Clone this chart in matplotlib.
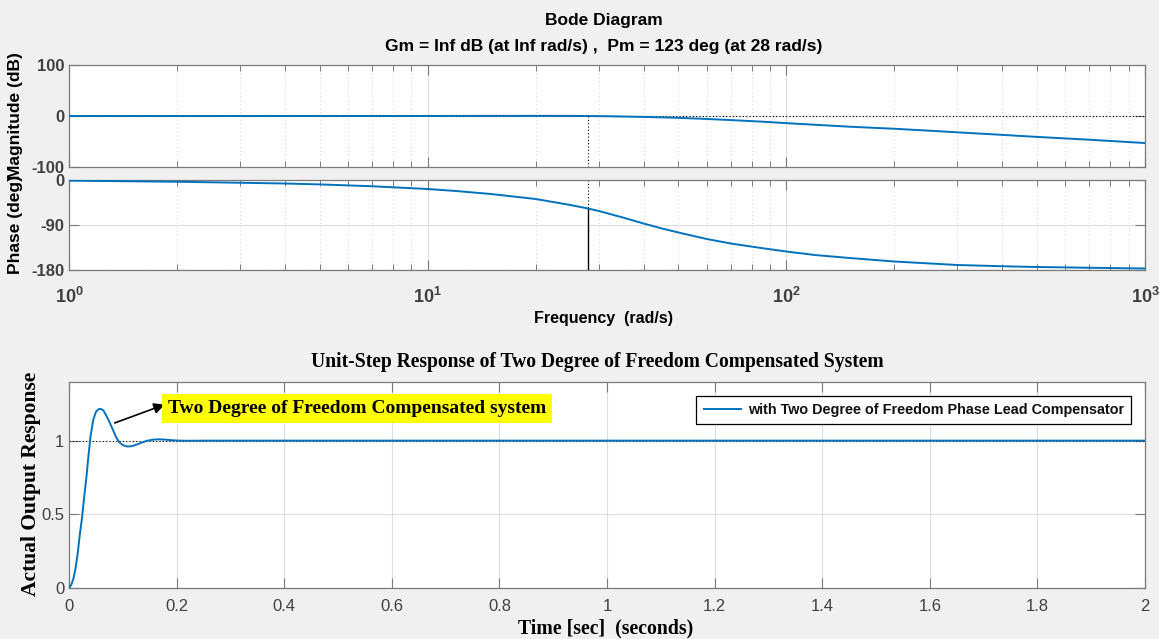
import numpy as np
import matplotlib
matplotlib.use("Agg")
import matplotlib.pyplot as plt
from matplotlib.ticker import LogLocator, NullFormatter, FixedLocator

# ---------------- data ----------------
mag_freq = [1, 2, 5, 10, 15, 20, 25, 28, 32, 35, 40, 45, 50, 60, 70, 85, 100,
            130, 150, 200, 250, 300, 400, 500, 700, 1000]
mag_db = [0.0, 0.0, 0.05, 0.1, 0.2, 0.3, 0.2, 0.0, -0.5, -1.0, -1.8, -2.7, -3.6,
          -5.8, -8.0, -11.0, -14.0, -18.5, -21.0, -25.0, -28.8, -32.0, -37.0,
          -41.0, -46.5, -53.0]

ph_freq = [1, 2, 3, 4, 5, 7, 10, 12, 15, 20, 25, 28, 30, 35, 40, 45, 50, 60, 70,
           85, 100, 120, 150, 200, 300, 400, 500, 700, 1000]
ph_deg = [-1.3, -3.5, -5.5, -7.0, -8.8, -12.5, -18.0, -22.0, -28.0, -38.0, -50.0,
          -57.0, -62.0, -75.0, -87.0, -97.0, -105.0, -118.0, -127.0, -136.0,
          -143.0, -150.0, -156.0, -163.0, -170.0, -172.5, -174.0, -175.5, -177.0]

pm_freq = 28
pm_phase = -57

step_t = [0, 0.004, 0.008, 0.012, 0.016, 0.020, 0.024, 0.028, 0.032, 0.036,
          0.040, 0.045, 0.050, 0.055, 0.059, 0.064, 0.070, 0.076, 0.082, 0.088,
          0.094, 0.100, 0.107, 0.114, 0.121, 0.128, 0.136, 0.145, 0.155, 0.166,
          0.178, 0.190, 0.205, 0.225, 0.25, 0.3, 2.0]
step_y = [0, 0.02, 0.06, 0.13, 0.23, 0.36, 0.47, 0.61, 0.74, 0.89,
          1.03, 1.14, 1.195, 1.213, 1.216, 1.205, 1.165, 1.12, 1.07, 1.02,
          0.987, 0.970, 0.961, 0.961, 0.967, 0.976, 0.988, 0.999, 1.006, 1.009,
          1.007, 1.003, 1.0, 0.999, 1.0, 1.0, 1.0]

step_xticks = [0, 0.2, 0.4, 0.6, 0.8, 1, 1.2, 1.4, 1.6, 1.8, 2]
step_yticks = [0, 0.5, 1]
mag_yticks = [-100, 0, 100]
ph_yticks = [-180, -90, 0]

# ---------------- style ----------------
BLUE = "#0072BD"
TICKC = "#404040"
SPINE = "#7a7a7a"
GRIDC = "#dedede"
SANS = ["Liberation Sans", "DejaVu Sans"]
SERIF = ["Liberation Serif", "DejaVu Serif"]

plt.rcParams["font.family"] = SANS
plt.rcParams["axes.unicode_minus"] = False
plt.rcParams["mathtext.fontset"] = "custom"
plt.rcParams["mathtext.rm"] = "Liberation Sans:bold"
plt.rcParams["mathtext.it"] = "Liberation Sans:bold"
plt.rcParams["mathtext.bf"] = "Liberation Sans:bold"

W, H = 1159, 639
fig = plt.figure(figsize=(W / 100, H / 100), dpi=100, facecolor="#f0f0f0")


def fx(px):
    return px / W


def fy(py):
    return 1 - py / H


L, R = 69, 1145
ax_mag = fig.add_axes([fx(L), fy(167), fx(R - L), (167 - 65) / H])
ax_ph = fig.add_axes([fx(L), fy(270), fx(R - L), (270 - 180) / H])
ax_st = fig.add_axes([fx(L), fy(588), fx(R - L), (588 - 381.7) / H])


def style_axes(ax, logx=False):
    ax.set_facecolor("white")
    for s in ax.spines.values():
        s.set_color(SPINE)
        s.set_linewidth(0.9)
    ax.tick_params(which="both", direction="in", top=True, right=True,
                   color=SPINE, labelcolor=TICKC)
    ax.tick_params(which="major", length=7, width=0.8)
    ax.tick_params(which="minor", length=4, width=0.7)
    ax.grid(True, which="major", color=GRIDC, linewidth=0.8, linestyle="-")
    if logx:
        ax.grid(True, which="minor", axis="x", color="#cfcfcf",
                linewidth=0.7, linestyle=(0, (1, 3)))
    ax.set_axisbelow(True)


# ---------------- magnitude ----------------
style_axes(ax_mag, logx=True)
ax_mag.set_xscale("log")
ax_mag.set_xlim(1, 1000)
ax_mag.set_ylim(-100, 100)
ax_mag.yaxis.set_major_locator(FixedLocator(mag_yticks))
ax_mag.xaxis.set_minor_locator(LogLocator(base=10, subs=np.arange(2, 10)))
ax_mag.xaxis.set_minor_formatter(NullFormatter())
ax_mag.tick_params(axis="x", which="both", labelbottom=False)
ax_mag.axhline(0, color="black", linestyle=(0, (1, 2)), linewidth=0.8, zorder=2)
ax_mag.plot([pm_freq, pm_freq], [0, -100], color="black",
            linestyle=(0, (1, 2)), linewidth=0.8, zorder=2)
ax_mag.plot(mag_freq, mag_db, color=BLUE, linewidth=1.4, zorder=3)
for lab in ax_mag.get_yticklabels():
    lab.set_fontweight("bold")
    lab.set_fontsize(12)

# ---------------- phase ----------------
style_axes(ax_ph, logx=True)
ax_ph.set_xscale("log")
ax_ph.set_xlim(1, 1000)
ax_ph.set_ylim(-180, 0)
ax_ph.yaxis.set_major_locator(FixedLocator(ph_yticks))
ax_ph.xaxis.set_minor_locator(LogLocator(base=10, subs=np.arange(2, 10)))
ax_ph.xaxis.set_minor_formatter(NullFormatter())
ax_ph.axhline(-180, color="black", linestyle=(0, (1, 2)), linewidth=0.8, zorder=2)
ax_ph.plot([pm_freq, pm_freq], [0, pm_phase], color="black",
           linestyle=(0, (1, 2)), linewidth=0.8, zorder=2)
ax_ph.plot([pm_freq, pm_freq], [pm_phase, -180], color="black",
           linewidth=1.0, zorder=2)
ax_ph.plot(ph_freq, ph_deg, color=BLUE, linewidth=1.4, zorder=3)
ax_ph.tick_params(axis="x", which="major", pad=12)
for lab in ax_ph.get_yticklabels():
    lab.set_fontweight("bold")
    lab.set_fontsize(12)
for lab in ax_ph.get_xticklabels():
    lab.set_fontweight("bold")
    lab.set_fontsize(13)

fig.text(fx(604), fy(20), "Bode Diagram", ha="center", va="center",
         fontsize=12.5, fontweight="bold", color="black")
fig.text(fx(604), fy(46),
         "Gm = Inf dB (at Inf rad/s) ,  Pm = 123 deg (at 28 rad/s)",
         ha="center", va="center", fontsize=12.5, fontweight="bold", color="black")
fig.text(fx(604), fy(318), "Frequency  (rad/s)", ha="center", va="center",
         fontsize=11.5, fontweight="bold", color="black")
fig.text(fx(16), fy(116), "Magnitude (dB)", rotation=90, ha="center",
         va="center", fontsize=12.5, fontweight="bold", color="black")
fig.text(fx(16), fy(225), "Phase (deg)", rotation=90, ha="center",
         va="center", fontsize=12.5, fontweight="bold", color="black")

# ---------------- step response ----------------
style_axes(ax_st)
ax_st.set_xlim(0, 2)
ax_st.set_ylim(0, 1.4)
ax_st.xaxis.set_major_locator(FixedLocator(step_xticks))
ax_st.yaxis.set_major_locator(FixedLocator(step_yticks))
ax_st.set_xticklabels(["%g" % v for v in step_xticks])
ax_st.set_yticklabels(["%g" % v for v in step_yticks])
ax_st.tick_params(axis="x", pad=8)
for lab in ax_st.get_yticklabels() + ax_st.get_xticklabels():
    lab.set_fontsize(12)
ax_st.axhline(1, color="black", linestyle=(0, (1, 2)), linewidth=0.8, zorder=2)
line, = ax_st.plot(step_t, step_y, color=BLUE, linewidth=1.4, zorder=3,
                   label="with Two Degree of Freedom Phase Lead Compensator")

leg = ax_st.legend(handles=[line], loc="upper right",
                   bbox_to_anchor=(0.987, 0.931), fancybox=False,
                   framealpha=1, edgecolor="black", handlelength=2.6,
                   borderpad=0.5, handletextpad=0.45, borderaxespad=0,
                   prop={"family": SANS, "weight": "bold", "size": 10.4})
leg.get_frame().set_linewidth(0.9)
for t in leg.get_texts():
    t.set_color("#111111")

ax_st.annotate("", xy=(0.178, 1.245), xytext=(0.085, 1.12),
               arrowprops=dict(arrowstyle="-|>", color="black", lw=1.2,
                               mutation_scale=16, shrinkA=0, shrinkB=0))
ax_st.text(0.184, 1.217, "Two Degree of Freedom Compensated system",
           ha="left", va="center", fontsize=14, fontweight="bold",
           family=SERIF, color="black",
           bbox=dict(boxstyle="square,pad=0.3", facecolor="#ffff00",
                     edgecolor="none"))

fig.text(fx(597), fy(362),
         "Unit-Step Response of Two Degree of Freedom Compensated System",
         ha="center", va="center", fontsize=14.1, fontweight="bold",
         family=SERIF, color="black")
fig.text(fx(606), fy(628), "Time [sec]  (seconds)", ha="center", va="center",
         fontsize=14.2, fontweight="bold", family=SERIF, color="black")
fig.text(fx(31), fy(484), "Actual Output Response", rotation=90,
         ha="center", va="center", fontsize=15.5, fontweight="bold",
         family=SERIF, color="black")

fig.savefig("out.png", dpi=100, facecolor=fig.get_facecolor())
